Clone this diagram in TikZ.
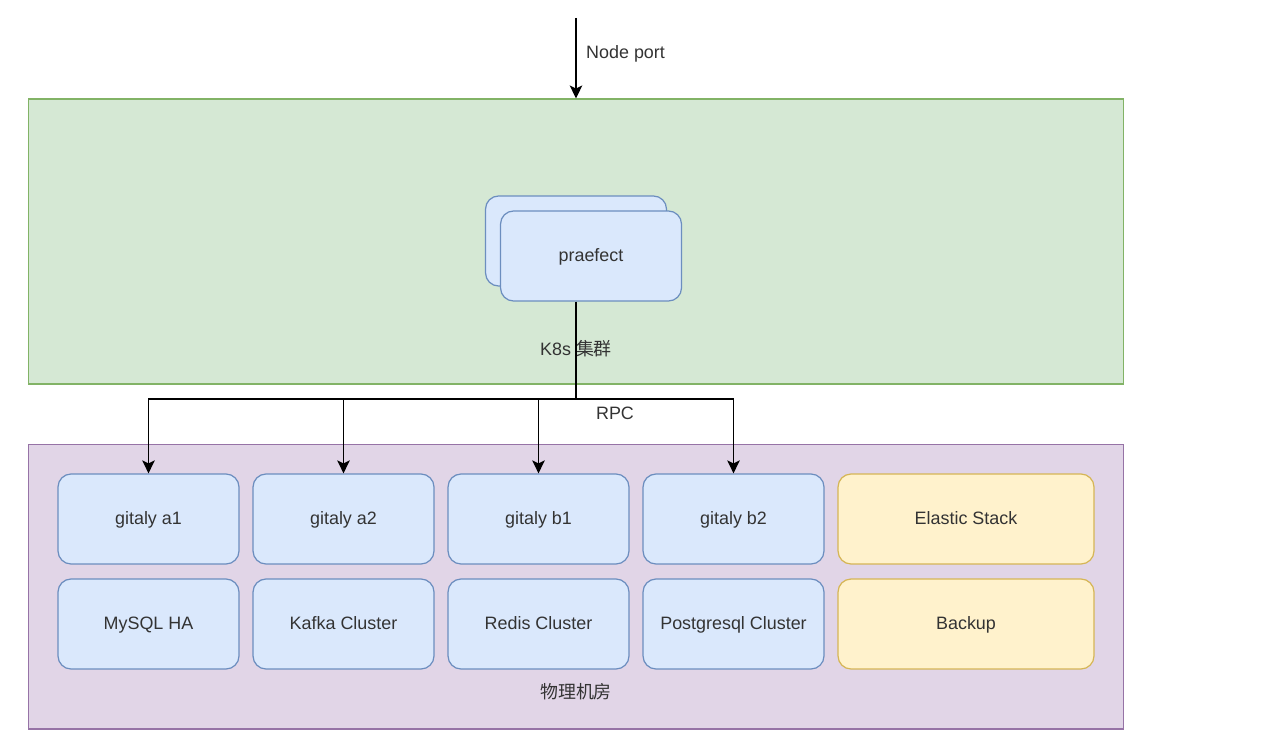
\documentclass[tikz,border=0pt]{standalone}
\usepackage{fontspec}
\setmainfont{Liberation Sans}
\newfontfamily\cjk{Noto Sans CJK SC}
\usepackage{tikz}
\usetikzlibrary{arrows.meta, positioning, calc}
\definecolor{k8s_fill}{HTML}{D5E8D4}
\definecolor{k8s_line}{HTML}{82B366}
\definecolor{room_fill}{HTML}{E1D5E7}
\definecolor{room_line}{HTML}{9673A6}
\definecolor{svc_fill}{HTML}{DAE8FC}
\definecolor{svc_line}{HTML}{6C8EBF}
\definecolor{ops_fill}{HTML}{FFF2CC}
\definecolor{ops_line}{HTML}{D6B656}
\definecolor{txt_grey}{HTML}{333333}

\begin{document}
\begin{tikzpicture}[x=0.02cm, y=-0.02cm, >={Stealth[length=0.26cm, width=0.25cm, inset=0.06cm]},
    every node/.style={font=\fontsize{10.2}{12}\selectfont, text=txt_grey, text height=1.6ex, text depth=0.4ex},
    zone/.style={rectangle, draw, line width=0.6pt, minimum width=21.92cm, minimum height=5.7cm},
    svc/.style={rectangle, rounded corners=0.26cm, draw=svc_line, fill=svc_fill, line width=0.7pt, minimum width=3.62cm, minimum height=1.8cm},
    ops/.style={svc, draw=ops_line, fill=ops_fill, minimum width=5.12cm},
    link/.style={line width=0.8pt, black}]
      \useasboundingbox (0,0) rectangle (1287,753);
      \node[zone, draw=k8s_line, fill=k8s_fill] (K) at (576,241.5) {};
      \node[zone, draw=room_line, fill=room_fill] (R) at (576,586.5) {};
      \node (Klbl) at (576,350) {K8s \cjk 集群};
      \node (Rlbl) at (576,693) {\cjk 物理机房};
      \node[svc] (P0) at (576,241) {};
      \node[svc] (P) at (591,256) {praefect};
      \node[svc] (A1) at (148.5,519) {gitaly a1};
      \node[svc] (A2) at (343.5,519) {gitaly a2};
      \node[svc] (B1) at (538.5,519) {gitaly b1};
      \node[svc] (B2) at (733.5,519) {gitaly b2};
      \node[ops] (E) at (966,519) {Elastic Stack};
      \node[svc] (M) at (148.5,624) {MySQL HA};
      \node[svc] (KC) at (343.5,624) {Kafka Cluster};
      \node[svc] (RC) at (538.5,624) {Redis Cluster};
      \node[svc] (PG) at (733.5,624) {Postgresql Cluster};
      \node[ops] (BK) at (966,624) {Backup};
      \coordinate (T) at (576,18);
      \coordinate (J) at (576,399);
      \draw[->, link] (T) -- (K.north);
      \node[anchor=west] (np) at (580,53) {Node port};
      \draw[link] (P.south -| J) -- (J);
      \draw[->, link] (J) -| (A1.north);
      \draw[->, link] (J) -| (A2.north);
      \draw[->, link] (J) -| (B1.north);
      \draw[->, link] (J) -| (B2.north);
      \node (rpc) at (615,414) {RPC};
    \end{tikzpicture}
\end{document}
